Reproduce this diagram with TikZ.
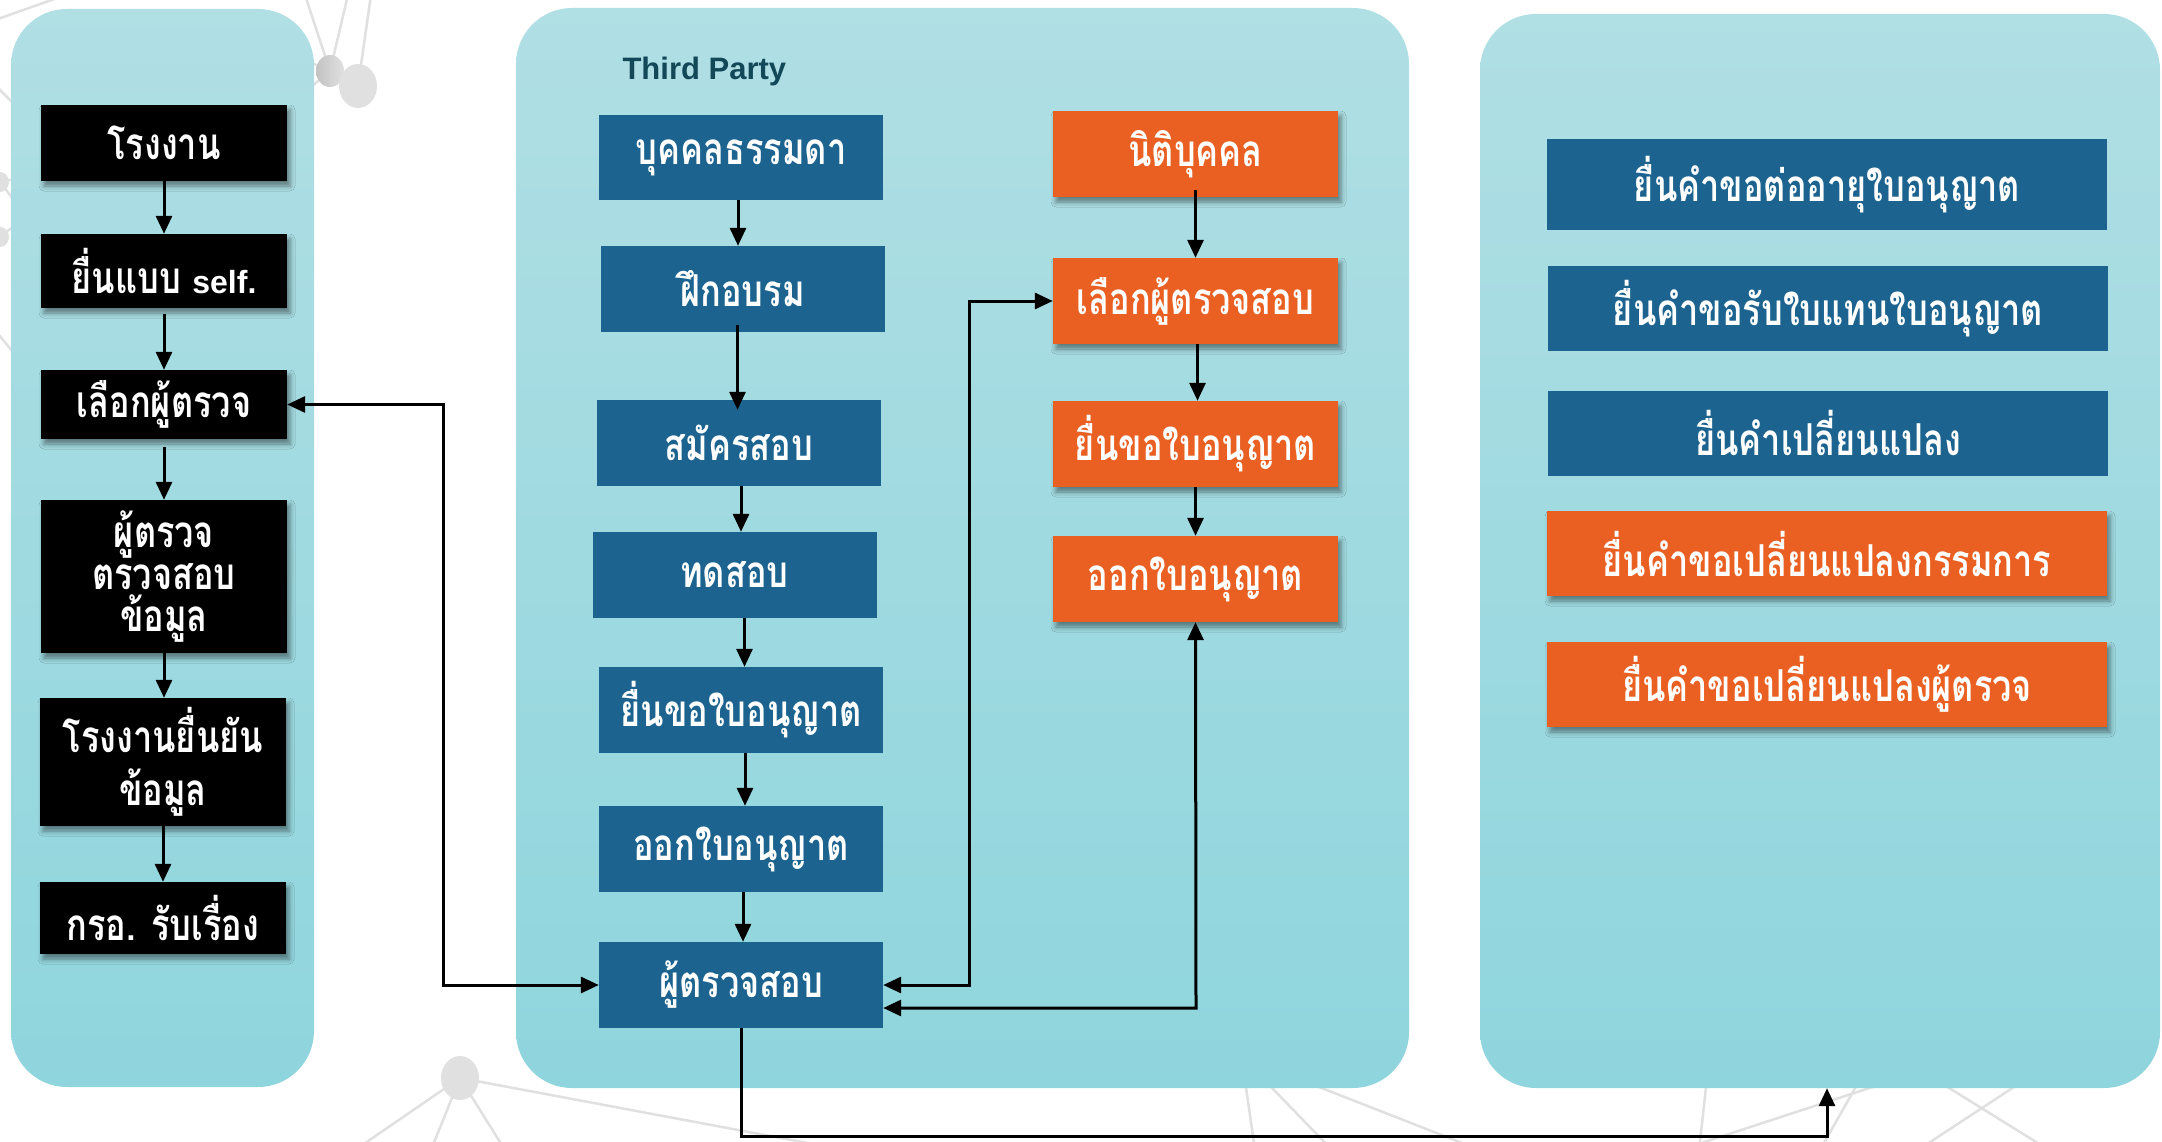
\documentclass[tikz,border=0pt]{standalone}
\usepackage{fontspec}
\usetikzlibrary{arrows.meta,shadows.blur,calc}
\newfontfamily\thaifont[Script=Thai,FakeStretch=0.78]{Loma}
\newfontfamily\headfont{Liberation Sans}
\definecolor{panelTop}{RGB}{176,223,228}
\definecolor{panelBot}{RGB}{143,213,221}
\definecolor{stepBlue}{RGB}{28,100,143}
\definecolor{stepOrange}{RGB}{233,96,34}
\definecolor{titleTeal}{RGB}{18,72,88}
\definecolor{netGray}{RGB}{224,224,224}
\begin{document}
\begin{tikzpicture}[x=1pt,y=-1pt,
  panel/.style={rounded corners=56pt, top color=panelTop, bottom color=panelBot, draw=none, inner sep=0pt},
  box/.style={inner sep=0pt, text=white, align=center,
    font=\thaifont\bfseries\fontsize{44}{48}\selectfont},
  dropshadow/.style={blur shadow={shadow xshift=3pt, shadow yshift=-5pt,
    shadow blur radius=5pt, shadow opacity=45}},
  blackbox/.style={box, fill=black, minimum width=246pt, dropshadow},
  bluebox/.style={box, fill=stepBlue, minimum width=284pt, minimum height=86pt},
  orangebox/.style={box, fill=stepOrange, minimum width=285pt, minimum height=86pt, dropshadow},
  widebox/.style={box, minimum width=560pt, minimum height=85pt},
  flow/.style={line width=3pt, -{Triangle[length=18pt,width=16pt]}},
  twoway/.style={line width=3pt, {Triangle[length=18pt,width=16pt]}-{Triangle[length=18pt,width=16pt]}},
  net/.style={draw=netGray, line width=2.5pt},
  netdot/.style={fill=netGray, draw=none}
]
\useasboundingbox (0,0) rectangle (2162,1142);

% faint network in the background
\draw[net] (330,71) -- (305,-5);
\draw[net] (330,71) -- (348,-5);
\draw[net] (358,86) -- (371,-5);
\draw[net] (330,71) -- (260,40);
\draw[net] (330,71) -- (260,130);
\draw[net] (-5,20) -- (60,-3);
\draw[net] (-5,85) -- (60,150);
\draw[net] (0,182) -- (60,170);
\draw[net] (0,182) -- (60,260);
\draw[net] (0,237) -- (60,190);
\draw[net] (-5,330) -- (60,410);
\filldraw[netdot] (0,182) ellipse (9 and 10);
\filldraw[netdot] (0,237) ellipse (9 and 10);
\draw[net] (460,1078) -- (355,1150);
\draw[net] (460,1078) -- (431,1150);
\draw[net] (460,1078) -- (505,1150);
\draw[net] (460,1078) -- (845,1150);
\draw[net] (1242,1060) -- (1255,1150);
\draw[net] (1245,1060) -- (1332,1150);
\draw[net] (1250,1060) -- (1480,1150);
\draw[net] (1709,1060) -- (1699,1150);
\draw[net] (1955,1060) -- (1680,1150);
\draw[net] (1871,1060) -- (1820,1150);
\draw[net] (1904,1060) -- (2049,1150);
\draw[net] (2055,1060) -- (1918,1150);
\shade[left color=netGray!70!gray, right color=netGray] (330,71) ellipse (14 and 16);
\filldraw[netdot] (358,86) ellipse (19 and 22);
\filldraw[netdot] (460,1078) ellipse (19 and 22);

% the three panels
\node[panel, minimum width=303pt, minimum height=1078pt] (lp) at (162.5,548) {};
\node[panel, minimum width=893pt, minimum height=1080pt] (mp) at (962.5,548) {};
\node[panel, minimum width=680pt, minimum height=1074pt] (rp) at (1820,551) {};

\node[anchor=base west, text=titleTeal, font=\headfont\bfseries\fontsize{31}{36}\selectfont] (title) at (619,80) {Third Party};

% factory path
\node[blackbox, minimum height=76pt] (b1) at (164,143) {โรงงาน};
\node[blackbox, minimum height=74pt] (b2) at (164,271) {ยื่นแบบ {\headfont\bfseries\fontsize{32}{36}\selectfont self.}};
\node[blackbox, minimum height=69pt] (b3) at (164,404.5) {เลือกผู้ตรวจ};
\node[blackbox, minimum height=153pt, font=\thaifont\bfseries\fontsize{44}{42}\selectfont] (b4) at (164,576.5) {ผู้ตรวจ\\ตรวจสอบ\\ข้อมูล};
\node[blackbox, minimum height=128pt, font=\thaifont\bfseries\fontsize{44}{53}\selectfont] (b5) at (163,762) {โรงงานยื่นยัน\\ข้อมูล};
\node[blackbox, minimum height=72pt] (b6) at (163,918) {กรอ. รับเรื่อง};

% natural person path
\node[bluebox, minimum height=85pt] (m1) at (741,157.5) {บุคคลธรรมดา};
\node[bluebox] (m2) at (742.5,289) {ฝึกอบรม};
\node[bluebox] (m3) at (739,443) {สมัครสอบ};
\node[bluebox] (m4) at (734.5,575) {ทดสอบ};
\node[bluebox] (m5) at (741,710) {ยื่นขอใบอนุญาต};
\node[bluebox] (m6) at (741,849) {ออกใบอนุญาต};
\node[bluebox] (m7) at (741,985) {ผู้ตรวจสอบ};

% juristic person path
\node[orangebox] (o1) at (1195.5,154) {นิติบุคคล};
\node[orangebox] (o2) at (1195.5,301) {เลือกผู้ตรวจสอบ};
\node[orangebox] (o3) at (1195.5,444) {ยื่นขอใบอนุญาต};
\node[orangebox] (o4) at (1195.5,579) {ออกใบอนุญาต};

% other requests
\node[widebox, fill=stepBlue, minimum height=90pt] (r1) at (1827,184.5) {ยื่นคำขอต่ออายุใบอนุญาต};
\node[widebox, fill=stepBlue] (r2) at (1828,308.5) {ยื่นคำขอรับใบแทนใบอนุญาต};
\node[widebox, fill=stepBlue] (r3) at (1828,433) {ยื่นคำเปลี่ยนแปลง};
\node[widebox, fill=stepOrange, dropshadow] (r4) at (1827,553.5) {ยื่นคำขอเปลี่ยนแปลงกรรมการ};
\node[widebox, fill=stepOrange, dropshadow] (r5) at (1827,684.5) {ยื่นคำขอเปลี่ยนแปลงผู้ตรวจ};

% vertical flows
\draw[flow] (b1.south) -- (b2.north);
\draw[flow] ([yshift=-6pt]b2.south) -- (b3.north);
\draw[flow] ([yshift=-8pt]b3.south) -- (b4.north);
\draw[flow] (b4.south) -- (b4.south |- b5.north);
\draw[flow] (b5.south) -- (b5.south |- b6.north);

\draw[flow] ([xshift=-3pt]m1.south) -- ([xshift=-3pt]m1.south |- m2.north);
\draw[flow] ([xshift=-5pt,yshift=7pt]m2.south) -- ([xshift=-5pt,yshift=-10pt]m2.south |- m3.north);
\draw[flow] ([xshift=2pt]m3.south) -- ([xshift=2pt]m3.south |- m4.north);
\draw[flow] ([xshift=10pt]m4.south) -- ([xshift=10pt]m4.south |- m5.north);
\draw[flow] ([xshift=4pt]m5.south) -- ([xshift=4pt]m5.south |- m6.north);
\draw[flow] ([xshift=2pt]m6.south) -- ([xshift=2pt]m6.south |- m7.north);

\draw[flow] ([yshift=7pt]o1.south) -- (o2.north);
\draw[flow] ([xshift=2pt]o2.south) -- ([xshift=2pt]o2.south |- o3.north);
\draw[flow] (o3.south) -- (o4.north);

% cross links
\coordinate (k1) at (443,404.5);
\draw[twoway] (b3.east) -- (k1) -- (k1 |- m7.west) -- (m7.west);
\coordinate (k2) at (969,301);
\draw[twoway] (o2.west) -- (k2) -- (k2 |- m7.east) -- (m7.east);
\coordinate (k3) at (1196,1008);
\draw[twoway] (o4.south) -- (k3) -- (k3 -| m7.east);
\coordinate (k4) at (1827,1136);
\draw[flow] (m7.south) -- (m7.south |- k4) -- (k4) -- (k4 |- rp.south);
\end{tikzpicture}
\end{document}
